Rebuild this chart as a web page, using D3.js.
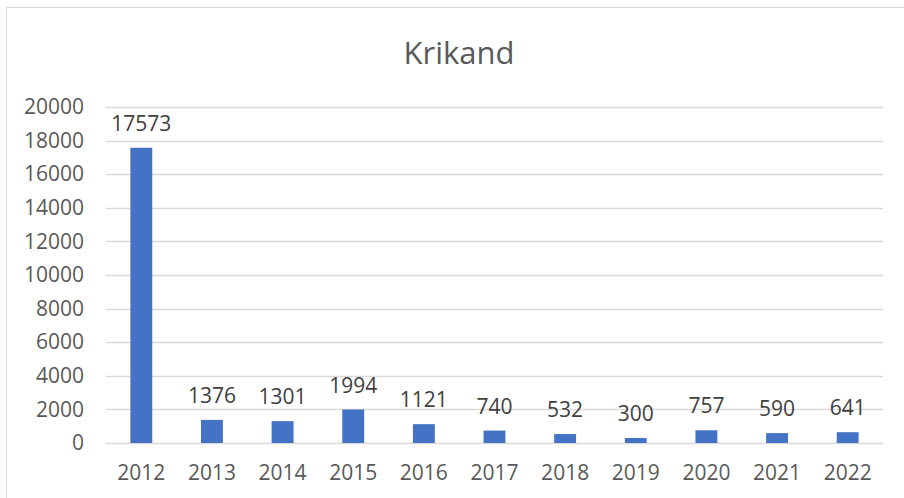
<!DOCTYPE html>
<html><head><meta charset="utf-8">
<script src="https://cdn.jsdelivr.net/npm/d3@7"></script>
<style>html,body{margin:0;padding:0;background:#fff;overflow:hidden;}</style>
</head><body>
<script>
const categories = ["2012","2013","2014","2015","2016","2017","2018","2019","2020","2021","2022"];
const values = [17573,1376,1301,1994,1121,740,532,300,757,590,641];
const yTicks = [0,2000,4000,6000,8000,10000,12000,14000,16000,18000,20000];
const chartTitle = "Krikand";

(function(){
const W = 904, H = 498;
const svg = d3.select("body").append("svg").attr("width", W).attr("height", H).style("display","block");
svg.append("rect").attr("x",0).attr("y",0).attr("width",W).attr("height",H).attr("fill","#fff");
svg.append("rect").attr("x",6.5).attr("y",7.5).attr("width",W+10).attr("height",H+10)
  .attr("fill","none").attr("stroke","#d9d9d9").attr("stroke-width",1);

const font = "'Open Sans', 'Liberation Sans', sans-serif";
const mLeft = 106, mRight = 883, mTop = 107, mBottom = 443;
const x = d3.scaleBand().domain(categories).range([mLeft, mRight]).paddingInner(0.69).paddingOuter(0.345);
const y = d3.scaleLinear().domain([0,20000]).range([mBottom, mTop]);

svg.append("text").attr("x", 459).attr("y", 64).attr("text-anchor","middle")
  .attr("font-family", font).attr("font-size", 31).attr("fill","#595959").text(chartTitle);

const grid = svg.append("g");
grid.selectAll("line").data(yTicks).join("line")
  .attr("x1", mLeft).attr("x2", mRight)
  .attr("y1", d => Math.round(y(d))+0.5).attr("y2", d => Math.round(y(d))+0.5)
  .attr("stroke","#d9d9d9").attr("stroke-width",1.3);

const yAxis = d3.axisLeft(y).tickValues(yTicks).tickSize(0).tickPadding(0).tickFormat(d3.format("d"));
const gy = svg.append("g").attr("transform", `translate(84,0)`).call(yAxis);
gy.select(".domain").remove();
gy.selectAll("text").attr("font-family", font).attr("font-size", 21).attr("fill","#595959");

const xAxis = d3.axisBottom(x).tickSize(0).tickPadding(0);
const gx = svg.append("g").attr("transform", `translate(0,${mBottom})`).call(xAxis);
gx.select(".domain").remove();
gx.selectAll("text").attr("font-family", font).attr("font-size", 21).attr("fill","#595959")
  .attr("dy", null).attr("y", 37);

svg.append("g").selectAll("rect").data(values).join("rect")
  .attr("x", (d,i) => x(categories[i])).attr("width", x.bandwidth())
  .attr("y", d => y(d)).attr("height", d => y(0) - y(d))
  .attr("fill", "#4472C4");

svg.append("g").selectAll("text").data(values).join("text")
  .attr("x", (d,i) => x(categories[i]) + x.bandwidth()/2)
  .attr("y", d => y(d) - 17)
  .attr("text-anchor","middle").attr("font-family", font).attr("font-size", 21)
  .attr("fill","#404040").text(d => d);
})();
</script>
</body></html>
